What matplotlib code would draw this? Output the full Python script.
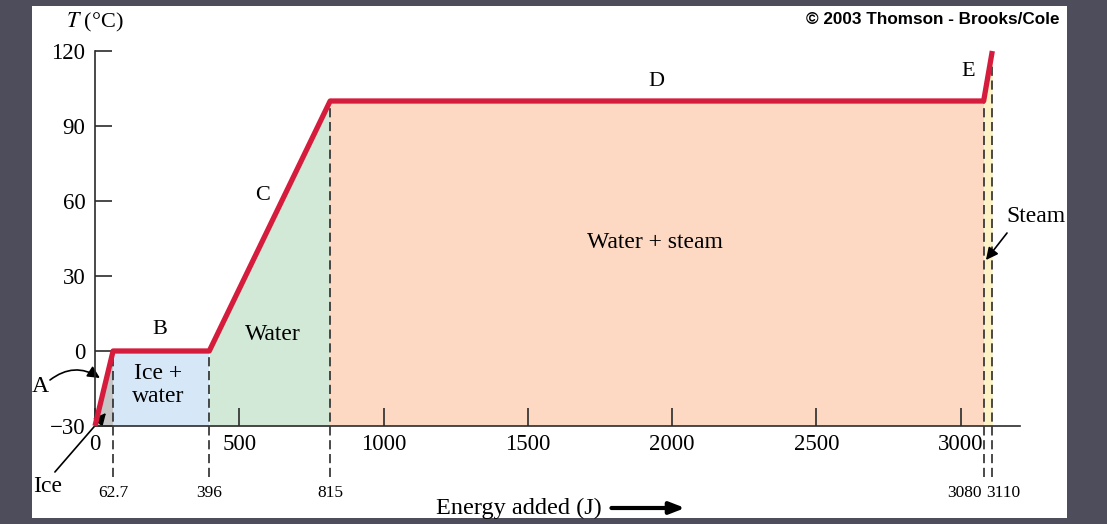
import matplotlib.pyplot as plt
from matplotlib.patches import Rectangle

plt.rcParams['font.family'] = ['Liberation Serif', 'DejaVu Serif']
plt.rcParams['mathtext.fontset'] = 'stix'

# heating curve of water
energy = [0, 62.7, 396, 815, 3080, 3110]
temp = [-30, 0, 0, 100, 100, 120]
marker_labels = ["62.7", "396", "815", "3080", "3110"]
xticks = [0, 500, 1000, 1500, 2000, 2500, 3000]
yticks = [-30, 0, 30, 60, 90, 120]
ytick_labels = ["\u221230", "0", "30", "60", "90", "120"]

fig = plt.figure(figsize=(11.07, 5.24), dpi=100)
fig.patch.set_facecolor("#4d4d5c")
fig.patches.append(Rectangle((32/1107, 6/524), 1035/1107, 512/524,
                             transform=fig.transFigure, facecolor="white",
                             edgecolor="none", zorder=-5))

ax = fig.add_axes([95/1107, 98/524, 925/1107, 375/524])
ax.set_facecolor("none")
ax.set_zorder(1)
ax.set_xlim(0, 3206)
ax.set_ylim(-30, 120)

# shaded phase regions
ax.fill_between(energy[0:2], -30, temp[0:2], color="#c6c6c6", lw=0, zorder=1)
ax.fill_between(energy[1:3], -30, temp[1:3], color="#d6e7f7", lw=0, zorder=1)
ax.fill_between(energy[2:4], -30, temp[2:4], color="#d3e9d7", lw=0, zorder=1)
ax.fill_between(energy[3:5], -30, temp[3:5], color="#fdd9c4", lw=0, zorder=1)
ax.fill_between(energy[4:6], -30, temp[4:6], color="#fdf2c6", lw=0, zorder=1, clip_on=False)

# dashed markers + small labels below the axis
offsets = {"3080": (-14, "center"), "3110": (8, "center")}
for xv, tv, lab in zip(energy[1:], temp[1:], marker_labels):
    ax.vlines(xv, -50.4, tv, colors="#2b2b2b", linestyles=(0, (5.5, 2.8)),
              lw=1.2, zorder=2, clip_on=False)
    dx, ha = offsets.get(lab, (0, "center"))
    ax.annotate(lab, (xv, -56.8), xytext=(dx, 0), textcoords="offset points",
                ha=ha, va="center", fontsize=12.5, annotation_clip=False)

ax.plot(energy, temp, color="#d61c3c", lw=3.8, zorder=4, clip_on=False,
        solid_capstyle="butt")

# axes styling
for s in ["top", "right"]:
    ax.spines[s].set_visible(False)
for s in ["left", "bottom"]:
    ax.spines[s].set_color("#2b2b2b")
    ax.spines[s].set_linewidth(1.2)
    ax.spines[s].set_zorder(3)
ax.set_xticks(xticks)
ax.set_xticklabels([str(v) for v in xticks])
ax.set_yticks(yticks)
ax.set_yticklabels(ytick_labels)
ax.tick_params(axis="x", direction="in", length=13, width=1.2, color="#2b2b2b",
               pad=6, labelsize=16.5)
ax.tick_params(axis="y", direction="in", length=12, width=1.2, color="#2b2b2b",
               pad=7, labelsize=16.5)

# segment labels
ax.text(225, 8.4, "B", fontsize=16, ha="center", va="center")
ax.text(582, 62, "C", fontsize=16, ha="center", va="center")
ax.text(1945, 108, "D", fontsize=16, ha="center", va="center")
ax.text(3026, 112, "E", fontsize=16, ha="center", va="center")
ax.text(617, 6.8, "Water", fontsize=17, ha="center", va="center")
ax.text(218, -13.6, "Ice +\nwater", fontsize=17, ha="center", va="center",
        linespacing=1.1)
ax.text(1941, 43.6, "Water + steam", fontsize=17, ha="center", va="center")
ax.text(-190, -14.4, "A", fontsize=17, ha="center", va="center", clip_on=False)
ax.text(-163, -54.4, "Ice", fontsize=17, ha="center", va="center", clip_on=False)
ax.text(3262, 54, "Steam", fontsize=17, ha="center", va="center", clip_on=False)

arrow = dict(arrowstyle="-|>", color="black", lw=1.2, mutation_scale=18,
             shrinkA=0, shrinkB=0)
ax.annotate("", xy=(17, -10.8), xytext=(-156, -11.6), annotation_clip=False,
            arrowprops=dict(arrow, connectionstyle="arc3,rad=-0.35"))
ax.annotate("", xy=(38, -24.8), xytext=(-139, -48.4), annotation_clip=False,
            arrowprops=arrow)
ax.annotate("", xy=(3088, 36.4), xytext=(3161, 47.2), annotation_clip=False,
            arrowprops=arrow)

ax.text(0, 131.6, r"$\mathit{T}$ (°C)", fontsize=16, ha="center",
        va="center", clip_on=False)
ax.text(1470, -62.8, "Energy added (J)", fontsize=17.5, ha="center",
        va="center", clip_on=False)
ax.annotate("", xy=(2045, -62.8), xytext=(1790, -62.8), annotation_clip=False,
            arrowprops=dict(arrowstyle="-|>,head_length=0.9,head_width=0.35",
                            color="black", lw=3, shrinkA=0, shrinkB=0))

fig.text(1060/1107, 1 - 20/524, "\u00a9 2003 Thomson - Brooks/Cole",
         family="Liberation Sans", fontweight="bold", fontsize=12.3,
         ha="right", va="center")

fig.savefig("out.png", dpi=100, facecolor=fig.get_facecolor())
